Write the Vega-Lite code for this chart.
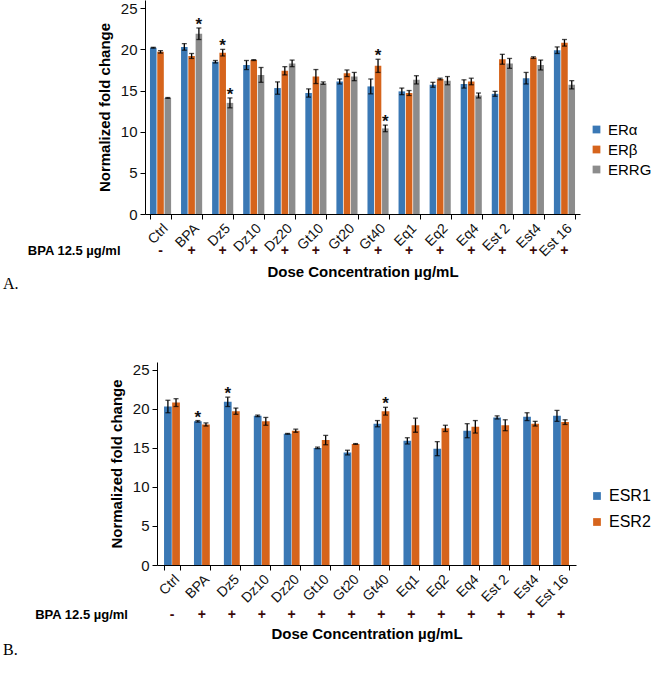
{
  "$schema": "https://vega.github.io/schema/vega-lite/v6.json",
  "padding": {"left": 3, "top": 0, "right": 5, "bottom": 5},
  "spacing": 70,
  "columns": 1,
  "align": "none",
  "resolve": {"scale": {"x": "independent", "y": "independent", "xOffset": "independent", "color": "independent"}, "legend": {"color": "independent"}, "axis": {"x": "independent", "y": "independent"}},
  "config": {
    "view": {"stroke": null},
    "font": "Liberation Sans",
    "axis": {"grid": false, "domainColor": "#000", "tickColor": "#000", "labelColor": "#111", "labelFont": "Liberation Sans", "titleFont": "Liberation Sans", "titleColor": "#000"},
    "legend": {"labelFont": "Liberation Sans", "labelColor": "#000", "title": null}
  },
  "datasets": {
    "a": [
      {"cat": "Ctrl", "gene": "ERα", "v": 20.2, "lo": 20.15, "hi": 20.25, "sig": false},
      {"cat": "Ctrl", "gene": "ERβ", "v": 19.7, "lo": 19.55, "hi": 19.85, "sig": false},
      {"cat": "Ctrl", "gene": "ERRG", "v": 14.1, "lo": 14.05, "hi": 14.15, "sig": false},
      {"cat": "BPA", "gene": "ERα", "v": 20.3, "lo": 19.9, "hi": 20.7, "sig": false},
      {"cat": "BPA", "gene": "ERβ", "v": 19.2, "lo": 18.9, "hi": 19.5, "sig": false},
      {"cat": "BPA", "gene": "ERRG", "v": 21.9, "lo": 21.2, "hi": 22.6, "sig": true},
      {"cat": "Dz5", "gene": "ERα", "v": 18.5, "lo": 18.35, "hi": 18.65, "sig": false},
      {"cat": "Dz5", "gene": "ERβ", "v": 19.6, "lo": 19.2, "hi": 20.0, "sig": true},
      {"cat": "Dz5", "gene": "ERRG", "v": 13.5, "lo": 12.9, "hi": 14.1, "sig": true},
      {"cat": "Dz10", "gene": "ERα", "v": 18.1, "lo": 17.55, "hi": 18.65, "sig": false},
      {"cat": "Dz10", "gene": "ERβ", "v": 18.7, "lo": 18.65, "hi": 18.75, "sig": false},
      {"cat": "Dz10", "gene": "ERRG", "v": 16.9, "lo": 16.0, "hi": 17.8, "sig": false},
      {"cat": "Dz20", "gene": "ERα", "v": 15.3, "lo": 14.55, "hi": 16.05, "sig": false},
      {"cat": "Dz20", "gene": "ERβ", "v": 17.4, "lo": 16.9, "hi": 17.9, "sig": false},
      {"cat": "Dz20", "gene": "ERRG", "v": 18.3, "lo": 17.9, "hi": 18.7, "sig": false},
      {"cat": "Gt10", "gene": "ERα", "v": 14.7, "lo": 14.2, "hi": 15.2, "sig": false},
      {"cat": "Gt10", "gene": "ERβ", "v": 16.7, "lo": 15.85, "hi": 17.55, "sig": false},
      {"cat": "Gt10", "gene": "ERRG", "v": 15.9, "lo": 15.75, "hi": 16.05, "sig": false},
      {"cat": "Gt20", "gene": "ERα", "v": 16.1, "lo": 15.8, "hi": 16.4, "sig": false},
      {"cat": "Gt20", "gene": "ERβ", "v": 17.1, "lo": 16.7, "hi": 17.5, "sig": false},
      {"cat": "Gt20", "gene": "ERRG", "v": 16.7, "lo": 16.2, "hi": 17.2, "sig": false},
      {"cat": "Gt40", "gene": "ERα", "v": 15.5, "lo": 14.6, "hi": 16.4, "sig": false},
      {"cat": "Gt40", "gene": "ERβ", "v": 18.0, "lo": 17.2, "hi": 18.8, "sig": true},
      {"cat": "Gt40", "gene": "ERRG", "v": 10.4, "lo": 10.0, "hi": 10.8, "sig": true},
      {"cat": "Eq1", "gene": "ERα", "v": 14.9, "lo": 14.5, "hi": 15.3, "sig": false},
      {"cat": "Eq1", "gene": "ERβ", "v": 14.7, "lo": 14.4, "hi": 15.0, "sig": false},
      {"cat": "Eq1", "gene": "ERRG", "v": 16.3, "lo": 15.8, "hi": 16.8, "sig": false},
      {"cat": "Eq2", "gene": "ERα", "v": 15.7, "lo": 15.4, "hi": 16.0, "sig": false},
      {"cat": "Eq2", "gene": "ERβ", "v": 16.4, "lo": 16.3, "hi": 16.5, "sig": false},
      {"cat": "Eq2", "gene": "ERRG", "v": 16.2, "lo": 15.7, "hi": 16.7, "sig": false},
      {"cat": "Eq4", "gene": "ERα", "v": 15.8, "lo": 15.3, "hi": 16.3, "sig": false},
      {"cat": "Eq4", "gene": "ERβ", "v": 16.1, "lo": 15.7, "hi": 16.5, "sig": false},
      {"cat": "Eq4", "gene": "ERRG", "v": 14.4, "lo": 14.1, "hi": 14.7, "sig": false},
      {"cat": "Est 2", "gene": "ERα", "v": 14.6, "lo": 14.3, "hi": 14.9, "sig": false},
      {"cat": "Est 2", "gene": "ERβ", "v": 18.8, "lo": 18.2, "hi": 19.4, "sig": false},
      {"cat": "Est 2", "gene": "ERRG", "v": 18.3, "lo": 17.7, "hi": 18.9, "sig": false},
      {"cat": "Est4", "gene": "ERα", "v": 16.5, "lo": 15.8, "hi": 17.2, "sig": false},
      {"cat": "Est4", "gene": "ERβ", "v": 19.0, "lo": 18.9, "hi": 19.1, "sig": false},
      {"cat": "Est4", "gene": "ERRG", "v": 18.1, "lo": 17.5, "hi": 18.7, "sig": false},
      {"cat": "Est 16", "gene": "ERα", "v": 19.9, "lo": 19.5, "hi": 20.3, "sig": false},
      {"cat": "Est 16", "gene": "ERβ", "v": 20.8, "lo": 20.4, "hi": 21.2, "sig": false},
      {"cat": "Est 16", "gene": "ERRG", "v": 15.7, "lo": 15.2, "hi": 16.2, "sig": false}
    ],
    "b": [
      {"cat": "Ctrl", "gene": "ESR1", "v": 20.3, "lo": 19.5, "hi": 21.1, "sig": false},
      {"cat": "Ctrl", "gene": "ESR2", "v": 20.8, "lo": 20.3, "hi": 21.3, "sig": false},
      {"cat": "BPA", "gene": "ESR1", "v": 18.4, "lo": 18.3, "hi": 18.5, "sig": true},
      {"cat": "BPA", "gene": "ESR2", "v": 18.0, "lo": 17.8, "hi": 18.2, "sig": false},
      {"cat": "Dz5", "gene": "ESR1", "v": 20.9, "lo": 20.3, "hi": 21.5, "sig": true},
      {"cat": "Dz5", "gene": "ESR2", "v": 19.7, "lo": 19.3, "hi": 20.1, "sig": false},
      {"cat": "Dz10", "gene": "ESR1", "v": 19.1, "lo": 19.0, "hi": 19.2, "sig": false},
      {"cat": "Dz10", "gene": "ESR2", "v": 18.4, "lo": 17.9, "hi": 18.9, "sig": false},
      {"cat": "Dz20", "gene": "ESR1", "v": 16.8, "lo": 16.75, "hi": 16.85, "sig": false},
      {"cat": "Dz20", "gene": "ESR2", "v": 17.2, "lo": 17.0, "hi": 17.4, "sig": false},
      {"cat": "Gt10", "gene": "ESR1", "v": 15.0, "lo": 14.9, "hi": 15.1, "sig": false},
      {"cat": "Gt10", "gene": "ESR2", "v": 16.0, "lo": 15.4, "hi": 16.6, "sig": false},
      {"cat": "Gt20", "gene": "ESR1", "v": 14.4, "lo": 14.1, "hi": 14.7, "sig": false},
      {"cat": "Gt20", "gene": "ESR2", "v": 15.5, "lo": 15.45, "hi": 15.55, "sig": false},
      {"cat": "Gt40", "gene": "ESR1", "v": 18.1, "lo": 17.7, "hi": 18.5, "sig": false},
      {"cat": "Gt40", "gene": "ESR2", "v": 19.7, "lo": 19.2, "hi": 20.2, "sig": true},
      {"cat": "Eq1", "gene": "ESR1", "v": 15.9, "lo": 15.5, "hi": 16.3, "sig": false},
      {"cat": "Eq1", "gene": "ESR2", "v": 17.9, "lo": 17.0, "hi": 18.8, "sig": false},
      {"cat": "Eq2", "gene": "ESR1", "v": 14.9, "lo": 14.0, "hi": 15.8, "sig": false},
      {"cat": "Eq2", "gene": "ESR2", "v": 17.5, "lo": 17.1, "hi": 17.9, "sig": false},
      {"cat": "Eq4", "gene": "ESR1", "v": 17.2, "lo": 16.3, "hi": 18.1, "sig": false},
      {"cat": "Eq4", "gene": "ESR2", "v": 17.7, "lo": 16.9, "hi": 18.5, "sig": false},
      {"cat": "Est 2", "gene": "ESR1", "v": 18.9, "lo": 18.7, "hi": 19.1, "sig": false},
      {"cat": "Est 2", "gene": "ESR2", "v": 17.9, "lo": 17.2, "hi": 18.6, "sig": false},
      {"cat": "Est4", "gene": "ESR1", "v": 19.0, "lo": 18.5, "hi": 19.5, "sig": false},
      {"cat": "Est4", "gene": "ESR2", "v": 18.1, "lo": 17.8, "hi": 18.4, "sig": false},
      {"cat": "Est 16", "gene": "ESR1", "v": 19.1, "lo": 18.4, "hi": 19.8, "sig": false},
      {"cat": "Est 16", "gene": "ESR2", "v": 18.3, "lo": 18.0, "hi": 18.6, "sig": false}
    ],
    "signs": [
      {"cat": "Ctrl", "s": "-"}, {"cat": "BPA", "s": "+"}, {"cat": "Dz5", "s": "+"}, {"cat": "Dz10", "s": "+"},
      {"cat": "Dz20", "s": "+"}, {"cat": "Gt10", "s": "+"}, {"cat": "Gt20", "s": "+"}, {"cat": "Gt40", "s": "+"},
      {"cat": "Eq1", "s": "+"}, {"cat": "Eq2", "s": "+"}, {"cat": "Eq4", "s": "+"}, {"cat": "Est 2", "s": "+"},
      {"cat": "Est4", "s": "+"}, {"cat": "Est 16", "s": "+"}
    ],
    "bpa": [{"cat": "Ctrl", "t": "BPA 12.5 µg/ml"}]
  },
  "concat": [
    {
      "width": 423,
      "height": 214,
      "title": {"text": "A.", "orient": "bottom", "anchor": "start", "frame": "group", "dx": -154, "offset": -4, "font": "Liberation Serif", "fontSize": 16, "fontWeight": "normal", "color": "#000"},
      "encoding": {
        "x": {
          "field": "cat", "type": "nominal",
          "sort": ["Ctrl","BPA","Dz5","Dz10","Dz20","Gt10","Gt20","Gt40","Eq1","Eq2","Eq4","Est 2","Est4","Est 16"],
          "scale": {"paddingInner": 0.32, "paddingOuter": 0.16, "range": [-12, 423]},
          "axis": {"title": "Dose Concentration µg/mL", "titleFontSize": 15, "titleFontWeight": "bold", "titlePadding": 6, "labelAngle": -45, "labelFontSize": 14, "tickBand": "extent", "tickSize": 5, "labelPadding": 2}
        }
      },
      "layer": [
        {
          "data": {"name": "a"},
          "mark": {"type": "bar"},
          "encoding": {
            "xOffset": {"field": "gene", "sort": ["ERα","ERβ","ERRG"], "scale": {"paddingInner": 0.1}},
            "y": {"field": "v", "type": "quantitative", "title": "Normalized fold change", "scale": {"domain": [0, 25]},
              "axis": {"values": [0,5,10,15,20,25], "offset": 12, "labelFontSize": 15, "titleFontSize": 15, "titleFontWeight": "bold", "tickSize": 5, "titlePadding": 8, "labelPadding": 3}},
            "color": {"field": "gene", "type": "nominal", "sort": ["ERα","ERβ","ERRG"],
              "scale": {"domain": ["ERα","ERβ","ERRG"], "range": ["#3a78b5", "#d6641c", "#8c8c8c"]},
              "legend": {"orient": "none", "legendX": 432, "legendY": 122, "labelFontSize": 15, "symbolType": "square", "symbolSize": 60, "rowPadding": 4, "symbolStrokeWidth": 0}}
          }
        },
        {
          "data": {"name": "a"},
          "mark": {"type": "rule", "color": "#000", "strokeWidth": 1.3},
          "encoding": {
            "xOffset": {"field": "gene", "sort": ["ERα","ERβ","ERRG"]},
            "y": {"field": "lo", "type": "quantitative", "title": "Normalized fold change"},
            "y2": {"field": "hi"}
          }
        },
        {
          "data": {"name": "a"},
          "mark": {"type": "tick", "color": "#000", "thickness": 1.3, "size": 5},
          "encoding": {
            "xOffset": {"field": "gene", "sort": ["ERα","ERβ","ERRG"]},
            "y": {"field": "lo", "type": "quantitative", "title": "Normalized fold change"}
          }
        },
        {
          "data": {"name": "a"},
          "mark": {"type": "tick", "color": "#000", "thickness": 1.3, "size": 5},
          "encoding": {
            "xOffset": {"field": "gene", "sort": ["ERα","ERβ","ERRG"]},
            "y": {"field": "hi", "type": "quantitative", "title": "Normalized fold change"}
          }
        },
        {
          "data": {"name": "a"},
          "transform": [{"filter": "datum.sig"}],
          "mark": {"type": "text", "text": "*", "fontSize": 17, "fontWeight": "bold", "color": "#111", "baseline": "middle", "dy": -3},
          "encoding": {
            "xOffset": {"field": "gene", "sort": ["ERα","ERβ","ERRG"]},
            "y": {"field": "hi", "type": "quantitative", "title": "Normalized fold change"}
          }
        },
        {
          "data": {"name": "signs"},
          "mark": {"type": "text", "fontSize": 14, "fontWeight": "bold", "baseline": "middle", "clip": false},
          "encoding": {
            "text": {"field": "s"},
            "y": {"datum": -4.55, "type": "quantitative", "title": "Normalized fold change"},
            "color": {"value": "#3b0a0a"}
          }
        },
        {
          "data": {"name": "bpa"},
          "mark": {"type": "text", "fontSize": 13, "fontWeight": "bold", "align": "right", "baseline": "middle", "dx": -40, "clip": false, "color": "#000"},
          "encoding": {
            "text": {"field": "t"},
            "y": {"datum": -4.55, "type": "quantitative", "title": "Normalized fold change"}
          }
        }
      ]
    },
    {
      "width": 419,
      "height": 203,
      "title": {"text": "B.", "orient": "bottom", "anchor": "start", "frame": "group", "dx": -154, "offset": 0, "font": "Liberation Serif", "fontSize": 16, "fontWeight": "normal", "color": "#000"},
      "encoding": {
        "x": {
          "field": "cat", "type": "nominal",
          "sort": ["Ctrl","BPA","Dz5","Dz10","Dz20","Gt10","Gt20","Gt40","Eq1","Eq2","Eq4","Est 2","Est4","Est 16"],
          "scale": {"paddingInner": 0.47, "paddingOuter": 0.235},
          "axis": {"title": "Dose Concentration µg/mL", "titleFontSize": 15, "titleFontWeight": "bold", "titlePadding": 17, "labelAngle": -45, "labelFontSize": 14, "tickBand": "extent", "tickSize": 5, "labelPadding": 2}
        }
      },
      "layer": [
        {
          "data": {"name": "b"},
          "mark": {"type": "bar"},
          "encoding": {
            "xOffset": {"field": "gene", "sort": ["ESR1","ESR2"], "scale": {"paddingInner": 0.05}},
            "y": {"field": "v", "type": "quantitative", "title": "Normalized fold change", "scale": {"domain": [0, 25]},
              "axis": {"values": [0,5,10,15,20,25], "labelFontSize": 15, "titleFontSize": 15, "titleFontWeight": "bold", "tickSize": 5, "titlePadding": 8, "labelPadding": 3}},
            "color": {"field": "gene", "type": "nominal", "sort": ["ESR1","ESR2"],
              "scale": {"domain": ["ESR1","ESR2"], "range": ["#3a78b5", "#d6641c"]},
              "legend": {"orient": "none", "legendX": 432, "legendY": 126, "labelFontSize": 16, "symbolType": "square", "symbolSize": 60, "rowPadding": 10, "symbolStrokeWidth": 0}}
          }
        },
        {
          "data": {"name": "b"},
          "mark": {"type": "rule", "color": "#000", "strokeWidth": 1.3},
          "encoding": {
            "xOffset": {"field": "gene", "sort": ["ESR1","ESR2"]},
            "y": {"field": "lo", "type": "quantitative", "title": "Normalized fold change"},
            "y2": {"field": "hi"}
          }
        },
        {
          "data": {"name": "b"},
          "mark": {"type": "tick", "color": "#000", "thickness": 1.3, "size": 5},
          "encoding": {
            "xOffset": {"field": "gene", "sort": ["ESR1","ESR2"]},
            "y": {"field": "lo", "type": "quantitative", "title": "Normalized fold change"}
          }
        },
        {
          "data": {"name": "b"},
          "mark": {"type": "tick", "color": "#000", "thickness": 1.3, "size": 5},
          "encoding": {
            "xOffset": {"field": "gene", "sort": ["ESR1","ESR2"]},
            "y": {"field": "hi", "type": "quantitative", "title": "Normalized fold change"}
          }
        },
        {
          "data": {"name": "b"},
          "transform": [{"filter": "datum.sig"}],
          "mark": {"type": "text", "text": "*", "fontSize": 17, "fontWeight": "bold", "color": "#111", "baseline": "middle", "dy": -3},
          "encoding": {
            "xOffset": {"field": "gene", "sort": ["ESR1","ESR2"]},
            "y": {"field": "hi", "type": "quantitative", "title": "Normalized fold change"}
          }
        },
        {
          "data": {"name": "signs"},
          "mark": {"type": "text", "fontSize": 14, "fontWeight": "bold", "baseline": "middle", "clip": false},
          "encoding": {
            "text": {"field": "s"},
            "y": {"datum": -6.4, "type": "quantitative", "title": "Normalized fold change"},
            "color": {"value": "#3b0a0a"}
          }
        },
        {
          "data": {"name": "bpa"},
          "mark": {"type": "text", "fontSize": 13, "fontWeight": "bold", "align": "right", "baseline": "middle", "dx": -44, "clip": false, "color": "#000"},
          "encoding": {
            "text": {"field": "t"},
            "y": {"datum": -6.4, "type": "quantitative", "title": "Normalized fold change"}
          }
        }
      ]
    }
  ]
}
